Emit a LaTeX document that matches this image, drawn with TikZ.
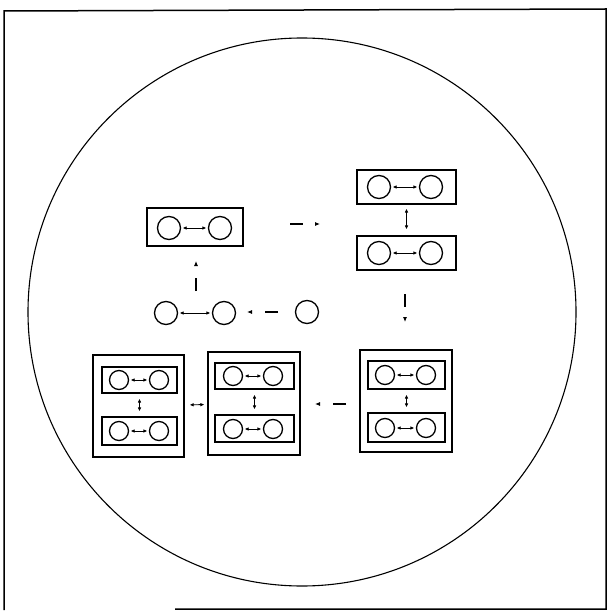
\documentclass[tikz,border=0pt]{standalone}
\usetikzlibrary{arrows.meta}
\begin{document}
\begin{tikzpicture}[x=1pt,y=-1pt,
  ln/.style={line width=1.2pt},
  cir/.style={circle,draw,line width=1.3pt,minimum size=23pt,inner sep=0pt},
  scir/.style={circle,draw,line width=1.3pt,minimum size=19pt,inner sep=0pt},
  box/.style={rectangle,draw,ln,inner sep=0pt},
  dbl/.style={{Latex[length=4pt,width=3.6pt]}-{Latex[length=4pt,width=3.6pt]},line width=0.9pt,shorten <=1.5pt,shorten >=1.5pt},
  vdbl/.style={dbl,shorten <=5pt,shorten >=5pt},
  dsh/.style={-{Latex[length=5pt,width=4.2pt]},line width=1.1pt,dash pattern=on 13pt off 30pt}
]
\useasboundingbox (0,0) rectangle (608,612);
% frame
\draw[line width=1.5pt] (175,609) -- (606,609) -- (606,9) -- (4,11) -- (4,610);
% big circle
\draw[line width=1.1pt] (302,312) circle [radius=274pt];

% top-left pair box
\node[box,minimum width=96pt,minimum height=38pt] (A) at (195,227) {};
\node[cir] (a1) at (169,228) {};
\node[cir] (a2) at (220,228) {};
\draw[dbl] (a1) -- (a2);

% top-right stack
\node[box,minimum width=99pt,minimum height=34pt] (B1) at (406.5,187) {};
\node[cir] (b11) at (379,187) {};
\node[cir] (b12) at (431,187) {};
\draw[dbl] (b11) -- (b12);
\node[box,minimum width=99pt,minimum height=34pt] (B2) at (406.5,253) {};
\node[cir] (b21) at (379,253) {};
\node[cir] (b22) at (431,253) {};
\draw[dbl] (b21) -- (b22);
\draw[dbl,shorten <=4pt,shorten >=6pt] (B1) -- (B2);

% middle row
\node[cir] (c1) at (166,313) {};
\node[cir] (c2) at (224,313) {};
\node[cir] (c3) at (307,312) {};
\draw[dbl] (c1) -- (c2);

% bottom left big box
\node[box,minimum width=91pt,minimum height=102pt] (L) at (138.5,406) {};
\node[box,minimum width=75pt,minimum height=26pt] (L1) at (139.5,380) {};
\node[scir] (l11) at (119,380) {};
\node[scir] (l12) at (159,380) {};
\draw[dbl] (l11) -- (l12);
\node[box,minimum width=75pt,minimum height=28pt] (L2) at (139.5,431) {};
\node[scir] (l21) at (119,431) {};
\node[scir] (l22) at (159,431) {};
\draw[dbl] (l21) -- (l22);
\draw[vdbl] (L1) -- (L2);

% bottom middle big box
\node[box,minimum width=92pt,minimum height=103pt] (M) at (254,403.5) {};
\node[box,minimum width=79pt,minimum height=26pt] (M1) at (254.5,376) {};
\node[scir] (m11) at (233,376) {};
\node[scir] (m12) at (273,376) {};
\draw[dbl] (m11) -- (m12);
\node[box,minimum width=79pt,minimum height=27pt] (M2) at (254.5,428.5) {};
\node[scir] (m21) at (233,429) {};
\node[scir] (m22) at (273,429) {};
\draw[dbl] (m21) -- (m22);
\draw[vdbl] (M1) -- (M2);

% bottom right big box
\node[box,minimum width=92pt,minimum height=102pt] (R) at (406,401) {};
\node[box,minimum width=77pt,minimum height=28pt] (R1) at (406.5,375) {};
\node[scir] (r11) at (385,375) {};
\node[scir] (r12) at (426,375) {};
\draw[dbl] (r11) -- (r12);
\node[box,minimum width=77pt,minimum height=29pt] (R2) at (406.5,427.5) {};
\node[scir] (r21) at (385,428) {};
\node[scir] (r22) at (426,428) {};
\draw[dbl] (r21) -- (r22);
\draw[vdbl] (R1) -- (R2);

% arrow between left and middle big boxes
\draw[dbl,shorten <=5pt,shorten >=3pt] (L) -- (M);

% dashed transition arrows
\coordinate (d1s) at (290,224); \coordinate (d1e) at (320,224);
\coordinate (d2s) at (405,294); \coordinate (d2e) at (405,322);
\coordinate (d3s) at (278,312); \coordinate (d3e) at (247,312);
\coordinate (d4s) at (196,291); \coordinate (d4e) at (196,261);
\coordinate (d5s) at (346,404); \coordinate (d5e) at (315,404);
\draw[dsh] (d1s) -- (d1e);
\draw[dsh] (d2s) -- (d2e);
\draw[dsh] (d3s) -- (d3e);
\draw[dsh] (d4s) -- (d4e);
\draw[dsh] (d5s) -- (d5e);
\end{tikzpicture}
\end{document}
